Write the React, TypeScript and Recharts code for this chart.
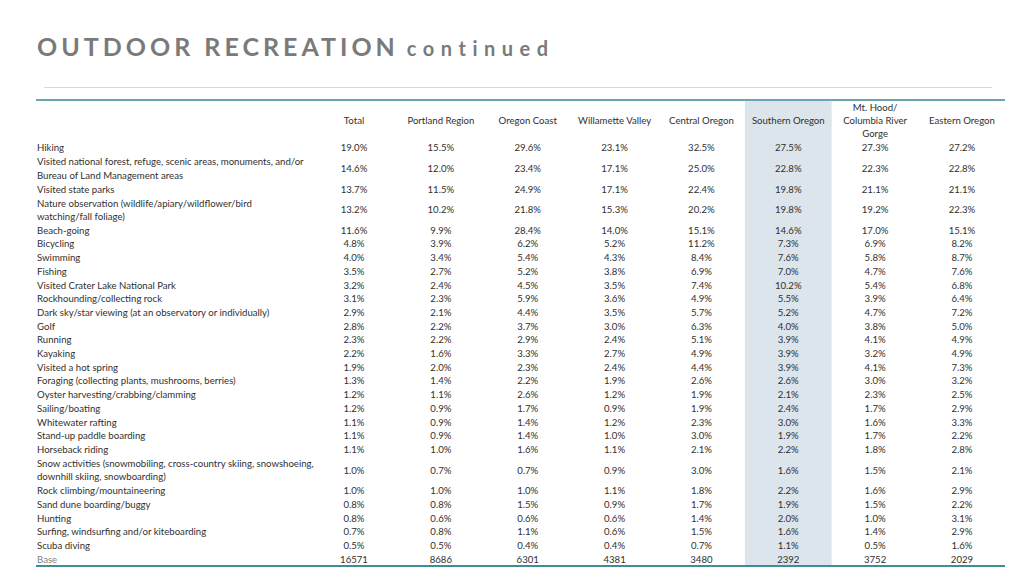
import React from 'react';
import { ScatterChart, Scatter, XAxis, YAxis, ReferenceArea } from 'recharts';

// column headers
const regions = [
  'Total',
  'Portland Region',
  'Oregon Coast',
  'Willamette Valley',
  'Central Oregon',
  'Southern Oregon',
  'Mt. Hood/\nColumbia River\nGorge',
  'Eastern Oregon'
];

const activities = [
  'Hiking',
  'Visited national forest, refuge, scenic areas, monuments, and/or\nBureau of Land Management areas',
  'Visited state parks',
  'Nature observation (wildlife/apiary/wildflower/bird\nwatching/fall foliage)',
  'Beach-going',
  'Bicycling',
  'Swimming',
  'Fishing',
  'Visited Crater Lake National Park',
  'Rockhounding/collecting rock',
  'Dark sky/star viewing (at an observatory or individually)',
  'Golf',
  'Running',
  'Kayaking',
  'Visited a hot spring',
  'Foraging (collecting plants, mushrooms, berries)',
  'Oyster harvesting/crabbing/clamming',
  'Sailing/boating',
  'Whitewater rafting',
  'Stand-up paddle boarding',
  'Horseback riding',
  'Snow activities (snowmobiling, cross-country skiing, snowshoeing,\ndownhill skiing, snowboarding)',
  'Rock climbing/mountaineering',
  'Sand dune boarding/buggy',
  'Hunting',
  'Surfing, windsurfing and/or kiteboarding',
  'Scuba diving'
];

// % participating, one array per region column (same order as activities)
const total = [19.0, 14.6, 13.7, 13.2, 11.6, 4.8, 4.0, 3.5, 3.2, 3.1, 2.9, 2.8, 2.3, 2.2, 1.9, 1.3, 1.2, 1.2, 1.1, 1.1, 1.1, 1.0, 1.0, 0.8, 0.8, 0.7, 0.5];
const portland = [15.5, 12.0, 11.5, 10.2, 9.9, 3.9, 3.4, 2.7, 2.4, 2.3, 2.1, 2.2, 2.2, 1.6, 2.0, 1.4, 1.1, 0.9, 0.9, 0.9, 1.0, 0.7, 1.0, 0.8, 0.6, 0.8, 0.5];
const coast = [29.6, 23.4, 24.9, 21.8, 28.4, 6.2, 5.4, 5.2, 4.5, 5.9, 4.4, 3.7, 2.9, 3.3, 2.3, 2.2, 2.6, 1.7, 1.4, 1.4, 1.6, 0.7, 1.0, 1.5, 0.6, 1.1, 0.4];
const willamette = [23.1, 17.1, 17.1, 15.3, 14.0, 5.2, 4.3, 3.8, 3.5, 3.6, 3.5, 3.0, 2.4, 2.7, 2.4, 1.9, 1.2, 0.9, 1.2, 1.0, 1.1, 0.9, 1.1, 0.9, 0.6, 0.6, 0.4];
const central = [32.5, 25.0, 22.4, 20.2, 15.1, 11.2, 8.4, 6.9, 7.4, 4.9, 5.7, 6.3, 5.1, 4.9, 4.4, 2.6, 1.9, 1.9, 2.3, 3.0, 2.1, 3.0, 1.8, 1.7, 1.4, 1.5, 0.7];
const southern = [27.5, 22.8, 19.8, 19.8, 14.6, 7.3, 7.6, 7.0, 10.2, 5.5, 5.2, 4.0, 3.9, 3.9, 3.9, 2.6, 2.1, 2.4, 3.0, 1.9, 2.2, 1.6, 2.2, 1.9, 2.0, 1.6, 1.1];
const mtHood = [27.3, 22.3, 21.1, 19.2, 17.0, 6.9, 5.8, 4.7, 5.4, 3.9, 4.7, 3.8, 4.1, 3.2, 4.1, 3.0, 2.3, 1.7, 1.6, 1.7, 1.8, 1.5, 1.6, 1.5, 1.0, 1.4, 0.5];
const eastern = [27.2, 22.8, 21.1, 22.3, 15.1, 8.2, 8.7, 7.6, 6.8, 6.4, 7.2, 5.0, 4.9, 4.9, 7.3, 3.2, 2.5, 2.9, 3.3, 2.2, 2.8, 2.1, 2.9, 2.2, 3.1, 2.9, 1.6];

const base = [16571, 8686, 6301, 4381, 3480, 2392, 3752, 2029];

const columns = [total, portland, coast, willamette, central, southern, mtHood, eastern];
const HIGHLIGHT = 'Southern Oregon';

const FONT = 'Lato, "Noto Sans", sans-serif';
const TEXT = '#303030';
const HEADER_UNITS = 3;

// build row layout: each text line takes one unit on the y scale
type Row = { label: string; center: number; isBase?: boolean; cells: string[] };
const rows: Row[] = [];
let cursor = HEADER_UNITS;
activities.forEach((label, r) => {
  const lines = label.split('\n').length;
  rows.push({
    label,
    center: cursor + lines / 2,
    cells: columns.map(col => `${col[r].toFixed(1)}%`)
  });
  cursor += lines;
});
rows.push({ label: 'Base', center: cursor + 0.5, isBase: true, cells: base.map(String) });
cursor += 1;
const TOTAL_UNITS = cursor;

const cellData = rows.flatMap(row =>
  row.cells.map((text, c) => ({ x: c, y: row.center, text }))
);
const headerData = regions.map((name, c) => ({ x: c, y: HEADER_UNITS / 2, text: name }));
const hiIndex = regions.indexOf(HIGHLIGHT);

const MultiLine = ({ x, y, text, anchor, fill }: { x: number; y: number; text: string; anchor: 'start' | 'middle'; fill: string }) => {
  const lines = text.split('\n');
  const lh = 13.2;
  const top = y - ((lines.length - 1) * lh) / 2;
  return (
    <text x={x} textAnchor={anchor} fontFamily={FONT} fontSize={9.6} fill={fill}>
      {lines.map((ln, i) => (
        <tspan key={i} x={x} y={top + i * lh} dominantBaseline="central">{ln}</tspan>
      ))}
    </text>
  );
};

const RowTick = (props: any) => {
  const row = rows.find(r => r.center === props.payload.value);
  if (!row) return null;
  return <MultiLine x={37} y={props.y} text={row.label} anchor="start" fill={row.isBase ? '#7f7f7f' : TEXT} />;
};

export default function App() {
  return (
    <div style={{ position: 'absolute', left: 0, top: 0, width: 1024, height: 576, background: '#fff' }}>
      <div style={{
        position: 'absolute',
        left: 37,
        top: 34,
        fontFamily: FONT,
        fontWeight: 'bold',
        color: '#7a7a7a',
        lineHeight: 1,
        whiteSpace: 'nowrap'
      }}>
        <span style={{ fontSize: 25, letterSpacing: 4 }}>OUTDOOR RECREATION</span>
        <span style={{ fontSize: 20, letterSpacing: 6.5, marginLeft: 8 }}>continued</span>
      </div>

      <div style={{ position: 'absolute', left: 0, top: 0 }}>
        <ScatterChart width={1024} height={576} margin={{ top: 100, right: 18.6, bottom: 10, left: 0 }}>
          <XAxis type="number" dataKey="x" domain={[-0.5, regions.length - 0.5]} hide />
          <YAxis
            type="number"
            dataKey="y"
            domain={[0, TOTAL_UNITS]}
            reversed
            width={310.6}
            ticks={rows.map(r => r.center)}
            interval={0}
            axisLine={false}
            tickLine={false}
            tick={RowTick}
          />
          <ReferenceArea
            x1={hiIndex - 0.5}
            x2={hiIndex + 0.5}
            y1={0}
            y2={TOTAL_UNITS}
            fill="#dce4ec"
            fillOpacity={1}
            stroke="none"
          />
          <Scatter
            data={headerData}
            isAnimationActive={false}
            shape={(p: any) => <MultiLine x={p.cx} y={p.cy} text={p.payload.text} anchor="middle" fill={TEXT} />}
          />
          <Scatter
            data={cellData}
            isAnimationActive={false}
            shape={(p: any) => <MultiLine x={p.cx} y={p.cy} text={p.payload.text} anchor="middle" fill={TEXT} />}
          />
        </ScatterChart>
      </div>

      {/* rules */}
      <div style={{ position: 'absolute', left: 44, top: 87, width: 948, height: 1, background: '#d9d9d9' }} />
      <div style={{ position: 'absolute', left: 36, top: 99, width: 969, height: 2, background: '#6aa6ad' }} />
      <div style={{ position: 'absolute', left: 36, top: 565, width: 969, height: 2, background: '#3f8e96' }} />
    </div>
  );
}
